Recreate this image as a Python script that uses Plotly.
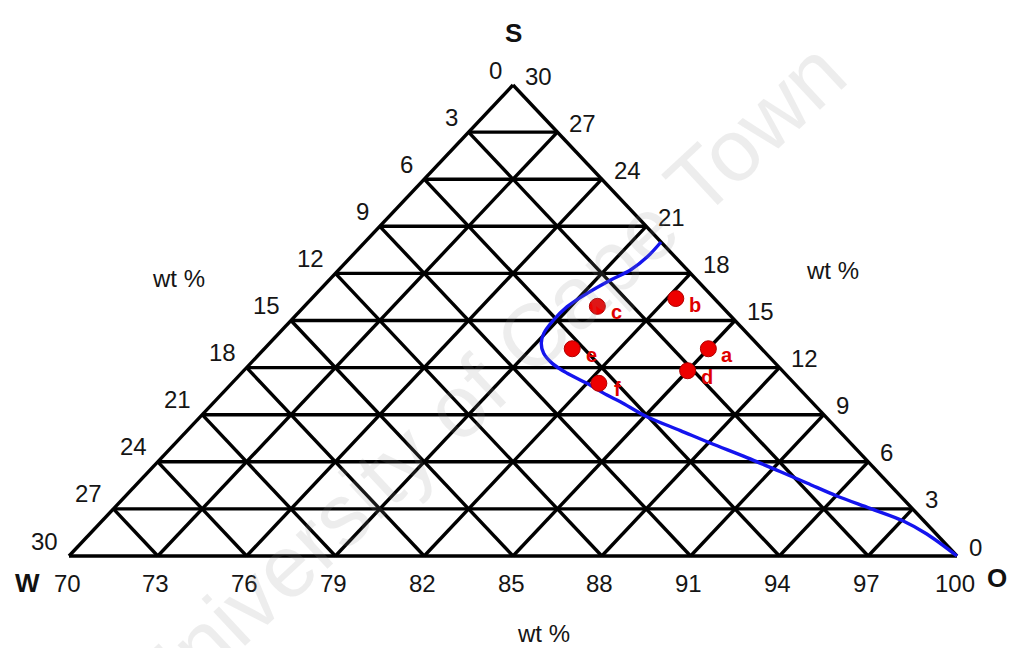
import plotly.graph_objects as go

# Ternary window: S 0-30, W 0-30, O 70-100 (wt %)
TICKS = [0, 3, 6, 9, 12, 15, 18, 21, 24, 27, 30]
O_TICKS = [70, 73, 76, 79, 82, 85, 88, 91, 94, 97, 100]

# Sample compositions (wt %)
pt_labels = ["a", "b", "c", "d", "e", "f"]
pt_S = [13.2, 16.4, 15.9, 11.8, 13.2, 11.0]
pt_W = [1.8, 1.3, 4.2, 3.2, 6.4, 6.6]
pt_O = [85.0, 82.3, 79.9, 85.0, 80.4, 82.4]

# Phase boundary curve (wt %)
curve_S = [20.0, 19.06, 18.22, 17.58, 16.73, 15.88, 14.92, 14.18, 13.55, 12.91,
           12.27, 11.64, 11.0, 10.25, 9.83, 8.87, 7.99, 7.20, 6.27, 5.38,
           4.65, 3.82, 3.03, 2.23, 1.40, 0.0]
curve_O = [80.0, 80.01, 79.86, 79.51, 79.14, 78.89, 78.86, 78.95, 79.18, 79.58,
           80.19, 81.01, 82.0, 83.05, 83.71, 85.09, 86.66, 88.06, 89.77, 91.33,
           92.60, 94.03, 95.55, 97.07, 98.28, 100.0]

O_MIN = 70.0
SPAN = 30.0


def proj(s, o):
    """Map an (S, O) composition to planar coordinates of the triangle
    W-corner (0,0), O-corner (1,0), S-corner (0.5,1)."""
    return ((o - O_MIN) / SPAN + 0.5 * s / SPAN, s / SPAN)


fig = go.Figure()

# grid: lines of constant S, O and W at every tick
gx, gy = [], []
for k in TICKS:
    # constant S = k : left edge (O=70) to right edge (W=0)
    for s, o in [(k, O_MIN), (k, 100 - k)]:
        x, y = proj(s, o)
        gx.append(x); gy.append(y)
    gx.append(None); gy.append(None)
    # constant O = 70+k : base (S=0) to right edge (W=0)
    for s, o in [(0, O_MIN + k), (SPAN - k, O_MIN + k)]:
        x, y = proj(s, o)
        gx.append(x); gy.append(y)
    gx.append(None); gy.append(None)
    # constant W = k : base (S=0) to left edge (O=70)
    for s, o in [(0, 100 - k), (SPAN - k, O_MIN)]:
        x, y = proj(s, o)
        gx.append(x); gy.append(y)
    gx.append(None); gy.append(None)

fig.add_trace(go.Scatter(x=gx, y=gy, mode="lines",
                         line=dict(color="black", width=3.4),
                         hoverinfo="skip", showlegend=False))

# boundary curve
cx, cy = zip(*[proj(s, o) for s, o in zip(curve_S, curve_O)])
fig.add_trace(go.Scatter(x=cx, y=cy, mode="lines",
                         line=dict(color="#1414ee", width=3.4, shape="spline", smoothing=1.0),
                         hoverinfo="skip", showlegend=False))

# sample points
px_, py_ = zip(*[proj(s, o) for s, o in zip(pt_S, pt_O)])
fig.add_trace(go.Scatter(x=px_, y=py_, mode="markers",
                         marker=dict(size=16, color="#ee0000",
                                     line=dict(color="#b00000", width=1)),
                         text=pt_labels, showlegend=False))

FONT = "Liberation Sans, Arial, sans-serif"
tick_font = dict(family=FONT, size=24, color="#151515")
ann = []

for lab, x, y in zip(pt_labels, px_, py_):
    ann.append(dict(x=x, y=y, xref="x", yref="y", text=lab, showarrow=False,
                    xshift=19, yshift=-6,
                    font=dict(family=FONT, size=20, color="#e00000", weight="bold")))

# right side: S values
for k in TICKS:
    x, y = proj(k, 100 - k)
    ann.append(dict(x=x, y=y, xref="x", yref="y", text=str(k), showarrow=False,
                    xanchor="left", xshift=10, yshift=9, font=tick_font))

# left side: W values
for k in TICKS:
    x, y = proj(SPAN - k, O_MIN)
    ann.append(dict(x=x, y=y, xref="x", yref="y", text=str(k), showarrow=False,
                    xanchor="right", xshift=-9, yshift=15, font=tick_font))

# base: O values
for k in O_TICKS:
    x, y = proj(0, k)
    ann.append(dict(x=x, y=y, xref="x", yref="y", text=str(k), showarrow=False,
                    xshift=-2, yshift=-27, font=tick_font))

# corner letters
corner_font = dict(family=FONT, size=26, color="#111111", weight="bold")
for lab, (s, o), dx, dy in [("S", (SPAN, O_MIN), 0, 52),
                            ("W", (0, O_MIN), -42, -27),
                            ("O", (0, 100), 40, -22)]:
    x, y = proj(s, o)
    ann.append(dict(x=x, y=y, xref="x", yref="y", text=lab, showarrow=False,
                    xshift=dx, yshift=dy, font=corner_font))

# axis unit labels
for px, py in [(178, 278), (832, 270), (543, 633)]:
    ann.append(dict(x=px / 1010, y=1 - py / 648, xref="paper", yref="paper",
                    xanchor="center", yanchor="middle",
                    text="wt %", showarrow=False, font=tick_font))

# watermark
ann.append(dict(x=484 / 1010, y=1 - 382 / 648, xref="paper", yref="paper",
                xanchor="center", yanchor="middle",
                text="University of Cape Town", showarrow=False, textangle=-43,
                font=dict(family=FONT, size=88, color="rgba(140,140,140,0.16)")))

fig.update_layout(
    width=1010, height=648,
    margin=dict(l=0, r=0, t=0, b=0),
    paper_bgcolor="white", plot_bgcolor="white",
    xaxis=dict(range=[-69 / 888, (1010 - 69) / 888], visible=False, fixedrange=True),
    yaxis=dict(range=[-(648 - 556) / 471, 556 / 471], visible=False, fixedrange=True),
    annotations=ann,
)

fig.write_html("out.html")
